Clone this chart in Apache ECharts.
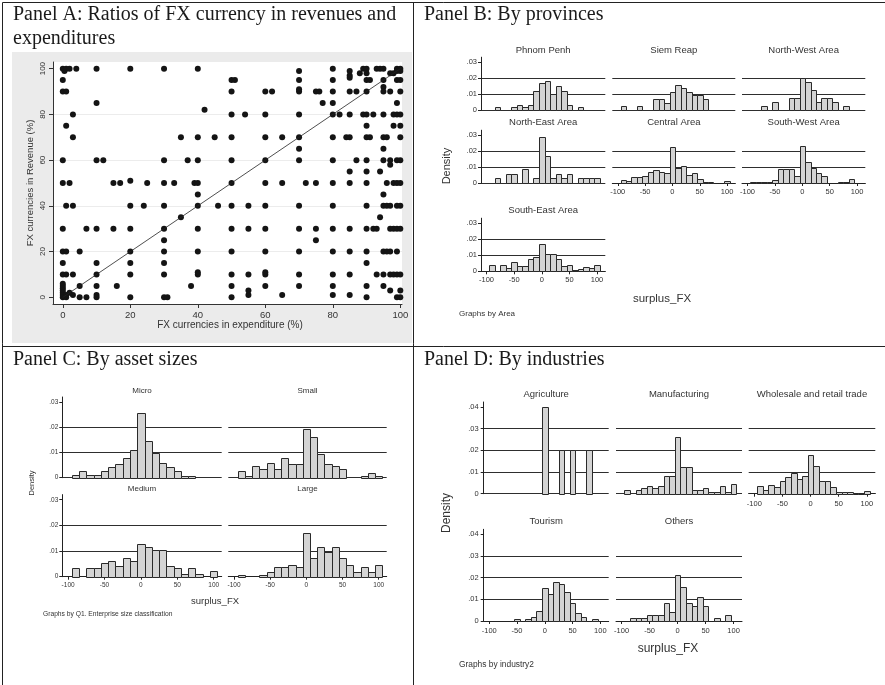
<!DOCTYPE html>
<html>
<head>
<meta charset="utf-8">
<script src="https://cdn.jsdelivr.net/npm/echarts@6/dist/echarts.min.js"></script>
<style>
  html, body { margin: 0; padding: 0; background: #fff; }
  #chart { width: 885px; height: 685px; }
</style>
</head>
<body>
<div id="chart"></div>
<script>
// ---------- Panel A: FX share in expenditure (x) vs revenue (y), one entry per firm ----------
const fxExpenditure = [
  0, 0.5, 1, 2, 4, 10, 20, 30, 40, 70, 80, 85, 85, 85, 88, 89, 90, 90, 93, 94, 95, 97, 98, 99, 100, 100, 99,
  0, 50, 51, 70, 80, 90, 91, 95, 99, 100,
  95,
  0, 1, 50, 60, 62, 70, 70, 75, 76, 80, 85, 87, 90, 95, 97, 100,
  10, 77, 80, 99,
  42,
  3, 50, 54, 60, 70, 80, 82, 85, 89, 90, 92, 95, 98, 99, 100,
  1, 90, 98, 100,
  3, 35, 40, 45, 50, 60, 65, 70, 80, 84, 85, 90, 91, 95, 96, 100,
  70, 95,
  0, 10, 12, 30, 37, 40, 50, 60, 70, 80, 87, 90, 95, 97, 99, 100,
  97,
  85, 90, 94,
  0, 2, 15, 17, 20, 25, 30, 33, 39, 40, 50, 60, 65, 72, 75, 80, 85, 90, 96, 98, 99, 100,
  40, 95,
  1, 3, 20, 24, 30, 40, 46, 50, 55, 60, 70, 80, 90, 95, 96, 97, 99, 100,
  35, 94,
  0, 7, 10, 15, 20, 30, 40, 50, 55, 60, 70, 75, 80, 85, 90, 92, 93, 97, 98, 99, 100,
  30, 75,
  0, 1, 5, 20, 30, 40, 50, 60, 70, 80, 85, 90, 95, 96, 97, 99,
  0, 10, 20, 30, 90,
  0, 1, 3, 10, 20, 30, 40, 40, 50, 55, 60, 60, 70, 80, 85, 93, 95, 97, 98, 99, 100,
  0, 0, 0, 5, 10, 16, 38, 50, 60, 70, 80, 90, 95,
  55, 97, 100, 0, 0,
  3, 10, 55, 65, 80, 85, 0, 1, 2,
  0, 1, 5, 7, 10, 20, 30, 31, 50, 90, 99, 100
];
const fxRevenue = [
  100, 99, 100, 100, 100, 100, 100, 100, 100, 99, 100, 99, 97, 96, 98, 100, 100, 98, 100, 100, 100, 98, 98, 100, 100, 99, 99,
  95, 95, 95, 95, 95, 95, 95, 95, 95, 95,
  92,
  90, 90, 90, 90, 90, 90, 91, 90, 90, 90, 90, 90, 90, 90, 90, 90,
  85, 85, 85, 85,
  82,
  80, 80, 80, 80, 80, 80, 80, 80, 80, 80, 80, 80, 80, 80, 80,
  75, 75, 75, 75,
  70, 70, 70, 70, 70, 70, 70, 70, 70, 70, 70, 70, 70, 70, 70, 70,
  65, 65,
  60, 60, 60, 60, 60, 60, 60, 60, 60, 60, 60, 60, 60, 60, 60, 60,
  58,
  55, 55, 55,
  50, 50, 50, 50, 51, 50, 50, 50, 50, 50, 50, 50, 50, 50, 50, 50, 50, 50, 50, 50, 50, 50,
  45, 45,
  40, 40, 40, 40, 40, 40, 40, 40, 40, 40, 40, 40, 40, 40, 40, 40, 40, 40,
  35, 35,
  30, 30, 30, 30, 30, 30, 30, 30, 30, 30, 30, 30, 30, 30, 30, 30, 30, 30, 30, 30, 30,
  25, 25,
  20, 20, 20, 20, 20, 20, 20, 20, 20, 20, 20, 20, 20, 20, 20, 20,
  15, 15, 15, 15, 15,
  10, 10, 10, 10, 10, 10, 10, 11, 10, 10, 10, 11, 10, 10, 10, 10, 10, 10, 10, 10, 10,
  5, 6, 4, 5, 5, 5, 5, 5, 5, 5, 5, 5, 5,
  3, 3, 3, 3, 2,
  1, 1, 1, 1, 1, 1, 1, 1, 2,
  0, 0, 0, 0, 0, 0, 0, 0, 0, 0, 0, 0
];
const equalityLine = [[0, 0], [100, 100]];
const pctTicks = [0, 20, 40, 60, 80, 100];

// ---------- Histograms of surplus_FX (density), bins of width 10 ----------
const binCenters = [-90, -80, -70, -60, -50, -40, -30, -20, -10, 0, 10, 20, 30, 40, 50, 60, 70, 80, 90, 100];
const BIN_WIDTH = 10;
const surplusTicks = [-100, -50, 0, 50, 100];
const densityTicks3 = [0, 0.01, 0.02, 0.03];
const densityTicks4 = [0, 0.01, 0.02, 0.03, 0.04];

// Panel B: by area
const phnomPenh   = [0, .0017, 0, 0, .0017, .0033, .0017, .0033, .0117, .0167, .0183, .0100, .0150, .0117, .0033, 0, .0017, 0, 0, 0];
const siemReap    = [.0023, 0, 0, .0023, 0, 0, .0068, .0068, .0045, .0114, .0159, .0136, .0114, .0091, .0091, .0068, 0, 0, 0, 0];
const northWest   = [0, 0, .0025, 0, .0050, 0, 0, .0075, .0075, .0200, .0175, .0125, .0050, .0075, .0075, .0050, 0, .0025, 0, 0];
const northEast   = [0, .0029, 0, .0057, .0057, 0, .0086, 0, .0029, .0286, .0171, .0029, .0057, .0029, .0057, 0, .0029, .0029, .0029, .0029];
const centralArea = [.0019, .0013, .0035, .0035, .0045, .0066, .0080, .0068, .0060, .0225, .0095, .0108, .0050, .0060, .0028, .0006, .0006, 0, 0, .0013];
const southWest   = [.0009, .0009, .0009, .0009, .0019, .0088, .0088, .0088, .0046, .0231, .0130, .0093, .0065, .0046, 0, 0, .0009, .0009, .0028, 0];
const southEast   = [.0038, 0, .0038, .0019, .0057, .0033, .0033, .0075, .0090, .0170, .0105, .0105, .0075, .0033, .0038, .0010, .0015, .0025, .0019, .0038];

// Panel C: by enterprise size
const sizeMicro   = [.0011, .0025, .0011, .0011, .0025, .0042, .0054, .0078, .0109, .0258, .0144, .0097, .0060, .0042, .0025, .0005, .0005, 0, 0, 0];
const sizeSmall   = [.0027, .0007, .0047, .0033, .0060, .0033, .0080, .0053, .0053, .0193, .0160, .0093, .0053, .0047, .0033, 0, 0, .0007, .0020, .0007];
const sizeMedium  = [.0032, 0, .0032, .0032, .0053, .0063, .0042, .0074, .0063, .0127, .0117, .0106, .0106, .0042, .0032, .0011, .0032, .0011, 0, .0021];
const sizeLarge   = [.0007, 0, 0, .0007, .0018, .0036, .0036, .0045, .0036, .0170, .0071, .0116, .0098, .0116, .0071, .0045, .0018, .0036, .0018, .0045];

// Panel D: by industry
const agriculture   = [0, 0, 0, 0, 0, 0, 0, 0, 0, .0400, 0, 0, .0200, 0, .0200, 0, 0, .0200, 0, 0];
const manufacturing = [.0018, 0, .0018, .0028, .0037, .0028, .0037, .0081, .0081, .0260, .0125, .0125, .0018, .0018, .0028, .0009, .0009, .0037, .0009, .0046];
const wholesale     = [.0035, .0018, .0040, .0033, .0057, .0075, .0097, .0070, .0083, .0180, .0127, .0060, .0057, .0030, .0007, .0007, .0007, .0004, .0004, .0013];
const tourism       = [0, 0, 0, 0, .0009, 0, .0009, .0018, .0048, .0152, .0123, .0182, .0172, .0133, .0084, .0038, .0018, 0, .0009, 0];
const othersInd     = [0, .0013, .0013, .0013, .0027, .0027, .0027, .0085, .0042, .0210, .0155, .0085, .0070, .0113, .0070, 0, .0013, 0, .0027, 0];

// ---------- drawing ----------
const SANS = '"Liberation Sans", Arial, sans-serif';
const SERIF = '"Liberation Serif", "Times New Roman", serif';
const INK = '#222';
const LABEL = '#333';

const grids = [], xAxes = [], yAxes = [], series = [], graphics = [];

function text(x, y, str, size, family, extra) {
  graphics.push(Object.assign({
    type: 'text', x: x, y: y, z: 100,
    style: Object.assign({
      text: str, fill: LABEL, font: size + 'px ' + family,
      textAlign: 'center', textVerticalAlign: 'middle'
    }, (extra && extra.style) || {})
  }, extra ? { rotation: extra.rotation || 0 } : {}));
}

function line(x1, y1, x2, y2) {
  graphics.push({ type: 'line', z: 100, shape: { x1, y1, x2, y2 }, style: { stroke: INK, lineWidth: 1 } });
}

function densityLabel(v) {
  return v === 0 ? '0' : String(+v.toFixed(2)).replace(/^0/, '');
}

function renderBin(params, api) {
  const c = api.value(0), h = api.value(1);
  const a = api.coord([c - BIN_WIDTH / 2, 0]);
  const b = api.coord([c + BIN_WIDTH / 2, h]);
  const x0 = Math.round(a[0]) + 0.5, x1 = Math.round(b[0]) + 0.5;
  const y0 = Math.round(a[1]) + 0.5, y1 = Math.round(b[1]) + 0.5;
  return {
    type: 'rect',
    shape: { x: x0, y: y1, width: x1 - x0, height: y0 - y1 },
    style: { fill: '#d4d4d4', stroke: '#2a2a2a', lineWidth: 1 }
  };
}

function histogram(cfg) {
  const gi = grids.length;
  grids.push({ left: cfg.left, top: cfg.top, width: cfg.right - cfg.left, height: cfg.bottom - cfg.top });
  xAxes.push({
    gridIndex: gi, type: 'value', min: cfg.xMin, max: cfg.xMax, position: 'bottom',
    axisLine: { show: !!cfg.showX, onZero: false, lineStyle: { color: INK, width: 1 } },
    axisTick: { show: !!cfg.showX, customValues: surplusTicks, length: 3, lineStyle: { color: INK } },
    axisLabel: { show: !!cfg.showX, customValues: surplusTicks, fontSize: cfg.tickFont, fontFamily: SANS,
                 color: LABEL, margin: cfg.xMargin },
    splitLine: { show: false }
  });
  yAxes.push({
    gridIndex: gi, type: 'value', min: 0, max: cfg.yMax, interval: 0.01,
    axisLine: { show: !!cfg.showY, onZero: false, lineStyle: { color: INK, width: 1 } },
    axisTick: { show: !!cfg.showY, customValues: cfg.yTicks, length: 3, lineStyle: { color: INK } },
    axisLabel: { show: !!cfg.showY, customValues: cfg.yTicks, formatter: densityLabel, fontSize: cfg.tickFont,
                 fontFamily: SANS, color: LABEL, margin: cfg.yMargin },
    splitLine: { show: true, showMinLine: true, showMaxLine: false, lineStyle: { color: '#2e2e2e', width: 1 } }
  });
  series.push({
    type: 'custom', xAxisIndex: gi, yAxisIndex: gi, renderItem: renderBin, silent: true, clip: false,
    data: binCenters.map((c, i) => [c, cfg.values[i]]).filter(d => d[1] > 0)
  });
  text((cfg.left + cfg.right) / 2, cfg.titleY, cfg.title, cfg.titleFont, SANS);
}

// Panel A scatter
graphics.push({ type: 'rect', z: -10, shape: { x: 12, y: 52, width: 400, height: 291 }, style: { fill: '#ebebeb' } });
grids.push({ left: 53, top: 62, width: 349, height: 242, show: true, backgroundColor: '#fff', borderWidth: 0 });
xAxes.push({
  gridIndex: 0, type: 'value', min: -2.9, max: 100.5,
  axisLine: { onZero: false, lineStyle: { color: '#333' } },
  axisTick: { customValues: pctTicks, length: 4, lineStyle: { color: '#333' } },
  axisLabel: { customValues: pctTicks, fontSize: 9.5, fontFamily: SANS, color: LABEL, margin: 6 },
  splitLine: { show: false }
});
yAxes.push({
  gridIndex: 0, type: 'value', min: -2.9, max: 102.9,
  axisLine: { onZero: false, lineStyle: { color: '#333' } },
  axisTick: { customValues: pctTicks, length: 4, lineStyle: { color: '#333' } },
  axisLabel: { customValues: pctTicks, rotate: 90, fontSize: 8, fontFamily: SANS, color: LABEL, margin: 6 },
  splitLine: { show: true, showMinLine: false, showMaxLine: false, lineStyle: { color: '#ececec', width: 1 } }
});
series.push({
  type: 'scatter', xAxisIndex: 0, yAxisIndex: 0, symbol: 'circle', symbolSize: 6, silent: true,
  itemStyle: { color: '#141414', opacity: 1 },
  data: fxExpenditure.map((x, i) => [x, fxRevenue[i]])
});
series.push({
  type: 'line', xAxisIndex: 0, yAxisIndex: 0, symbol: 'none', silent: true,
  lineStyle: { color: '#222', width: 0.8 }, data: equalityLine
});
text(13, 15, 'Panel A: Ratios of FX currency in revenues and', 20, SERIF, { style: { textAlign: 'left', fill: '#1a1a1a' } });
text(13, 39, 'expenditures', 20, SERIF, { style: { textAlign: 'left', fill: '#1a1a1a' } });
text(230, 325, 'FX currencies in expenditure (%)', 10, SANS);
text(30, 183, 'FX currencies in Revenue (%)', 9.5, SANS, { rotation: Math.PI / 2 });

// Panel B
const bCols = [[481, 605.3], [612.3, 735.3], [742, 865.3]];
const bRows = [[57.2, 110], [130.2, 183], [218.2, 271.3]];
const bTitleY = [50, 122.7, 210.7];
const bPanels = [
  { r: 0, c: 0, title: 'Phnom Penh', values: phnomPenh },
  { r: 0, c: 1, title: 'Siem Reap', values: siemReap },
  { r: 0, c: 2, title: 'North-West Area', values: northWest },
  { r: 1, c: 0, title: 'North-East Area', values: northEast },
  { r: 1, c: 1, title: 'Central Area', values: centralArea, showX: true },
  { r: 1, c: 2, title: 'South-West Area', values: southWest, showX: true },
  { r: 2, c: 0, title: 'South-East Area', values: southEast, showX: true }
];
bPanels.forEach(p => histogram({
  left: bCols[p.c][0], right: bCols[p.c][1], top: bRows[p.r][0], bottom: bRows[p.r][1],
  xMin: -110, xMax: 115, yMax: 0.033, yTicks: densityTicks3, values: p.values,
  showY: p.c === 0, showX: p.showX, tickFont: 7.5, xMargin: 5, yMargin: 4,
  title: p.title, titleY: bTitleY[p.r], titleFont: 9.5
}));
text(424, 15, 'Panel B: By provinces', 20, SERIF, { style: { textAlign: 'left', fill: '#1a1a1a' } });
text(447, 166, 'Density', 11, SANS, { rotation: Math.PI / 2 });
text(662, 299, 'surplus_FX', 11.5, SANS);
text(459, 314, 'Graphs by Area', 8, SANS, { style: { textAlign: 'left' } });

// Panel C
const cCols = [[62.3, 221.7], [228.3, 386.7]];
const cRows = [[397, 477.7], [494.6, 576.7]];
const cTitleY = [391, 489];
const cPanels = [
  { r: 0, c: 0, title: 'Micro', values: sizeMicro },
  { r: 0, c: 1, title: 'Small', values: sizeSmall },
  { r: 1, c: 0, title: 'Medium', values: sizeMedium, showX: true },
  { r: 1, c: 1, title: 'Large', values: sizeLarge, showX: true }
];
cPanels.forEach(p => histogram({
  left: cCols[p.c][0], right: cCols[p.c][1], top: cRows[p.r][0], bottom: cRows[p.r][1],
  xMin: -108, xMax: 111, yMax: 0.032, yTicks: densityTicks3, values: p.values,
  showY: p.c === 0, showX: p.showX, tickFont: 6.5, xMargin: 5, yMargin: 4,
  title: p.title, titleY: cTitleY[p.r], titleFont: 8
}));
text(13, 360, 'Panel C: By asset sizes', 20, SERIF, { style: { textAlign: 'left', fill: '#1a1a1a' } });
text(31.7, 483, 'Density', 7.5, SANS, { rotation: Math.PI / 2 });
text(215, 601, 'surplus_FX', 9.5, SANS);
text(43, 614, 'Graphs by Q1. Enterprise size classification', 6.7, SANS, { style: { textAlign: 'left' } });

// Panel D
const dCols = [[483.7, 608.7], [616, 742], [748.7, 875.3]];
const dRows = [[402, 493.7], [529.3, 621]];
const dTitleY = [394.3, 521.7];
const dPanels = [
  { r: 0, c: 0, title: 'Agriculture', values: agriculture },
  { r: 0, c: 1, title: 'Manufacturing', values: manufacturing },
  { r: 0, c: 2, title: 'Wholesale and retail trade', values: wholesale, showX: true },
  { r: 1, c: 0, title: 'Tourism', values: tourism, showX: true },
  { r: 1, c: 1, title: 'Others', values: othersInd, showX: true }
];
dPanels.forEach(p => histogram({
  left: dCols[p.c][0], right: dCols[p.c][1], top: dRows[p.r][0], bottom: dRows[p.r][1],
  xMin: -110, xMax: 115, yMax: 0.0423, yTicks: densityTicks4, values: p.values,
  showY: p.c === 0, showX: p.showX, tickFont: 7.5, xMargin: 6, yMargin: 5,
  title: p.title, titleY: dTitleY[p.r], titleFont: 9.5
}));
text(424, 360, 'Panel D: By industries', 20, SERIF, { style: { textAlign: 'left', fill: '#1a1a1a' } });
text(447, 513, 'Density', 12, SANS, { rotation: Math.PI / 2 });
text(668, 649, 'surplus_FX', 12, SANS);
text(459, 665, 'Graphs by industry2', 8.4, SANS, { style: { textAlign: 'left' } });

// table rules
line(2.5, 2.5, 885, 2.5);
line(2.5, 346.5, 885, 346.5);
line(2.5, 2.5, 2.5, 685);
line(413.5, 2.5, 413.5, 685);

const chart = echarts.init(document.getElementById('chart'), null, { renderer: 'canvas' });
chart.setOption({
  animation: false,
  backgroundColor: '#fff',
  grid: grids,
  xAxis: xAxes,
  yAxis: yAxes,
  series: series,
  graphic: graphics
});
</script>
</body>
</html>
